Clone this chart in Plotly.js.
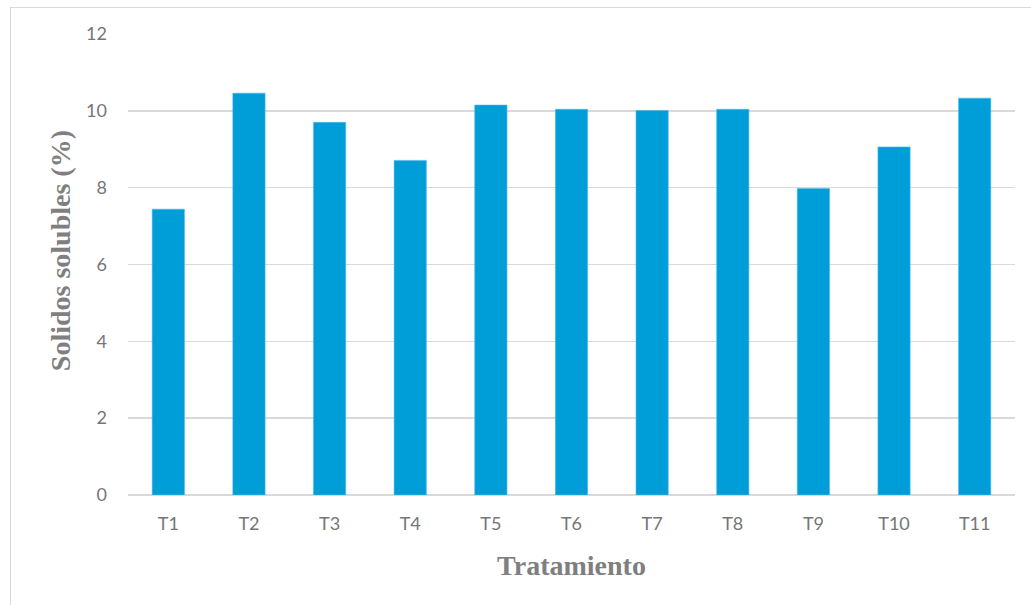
<!DOCTYPE html>
<html>
<head>
<meta charset="utf-8">
<script src="https://cdn.plot.ly/plotly-3.0.1.min.js"></script>
<style>
  html, body { margin: 0; padding: 0; background: #ffffff; }
  #frame { position: absolute; left: 10px; top: 7px; width: 1040px; height: 620px; border: 1px solid #d9d9d9; box-sizing: border-box; }
  #chart { position: absolute; left: 0; top: 0; width: 1031px; height: 605px; }
</style>
</head>
<body>
<div id="frame"></div>
<div id="chart"></div>
<script>
const categories = ["T1", "T2", "T3", "T4", "T5", "T6", "T7", "T8", "T9", "T10", "T11"];
const solidosSolubles = [7.44, 10.46, 9.70, 8.71, 10.15, 10.04, 10.01, 10.04, 7.98, 9.06, 10.33];
const yTickValues = [0, 2, 4, 6, 8, 10, 12];
const xTitle = "Tratamiento";
const yTitle = "Solidos solubles (%)";

const titleFont = { family: "'Liberation Serif', 'Times New Roman', serif", size: 28, color: "#7f7f7f", weight: "bold" };
const tickFont = { family: "Lato, sans-serif", size: 18, color: "#767676" };

const trace = {
  type: "bar",
  x: categories,
  y: solidosSolubles,
  marker: { color: "#009ed9", line: { color: "#4cbbe6", width: 0.6 } },
  hoverinfo: "x+y"
};

const layout = {
  width: 1031,
  height: 605,
  margin: { l: 128, r: 16, t: 34, b: 110, pad: 0 },
  paper_bgcolor: "rgba(0,0,0,0)",
  plot_bgcolor: "rgba(0,0,0,0)",
  bargap: 0.6,
  showlegend: false,
  font: { family: "Lato, 'Open Sans', sans-serif", size: 18, color: "#767676" },
  xaxis: {
    type: "category",
    showgrid: false,
    showline: false,
    ticks: "",
    ticklabelstandoff: 16,
    tickfont: tickFont,
    title: { text: xTitle, font: titleFont, standoff: 22 }
  },
  yaxis: {
    range: [0, 12],
    tickvals: yTickValues,
    showgrid: true,
    gridcolor: "#d9d9d9",
    gridwidth: 1.5,
    zeroline: true,
    zerolinecolor: "#d9d9d9",
    zerolinewidth: 1.5,
    showline: false,
    ticks: "",
    ticklabelstandoff: 20,
    tickfont: tickFont
  },
  annotations: [{
    text: yTitle,
    xref: "paper", yref: "paper",
    x: -0.0767, y: 0.531,
    xanchor: "center", yanchor: "middle",
    textangle: -90,
    showarrow: false,
    font: titleFont
  }]
};

Plotly.newPlot("chart", [trace], layout, { staticPlot: true, displayModeBar: false });
</script>
</body>
</html>
